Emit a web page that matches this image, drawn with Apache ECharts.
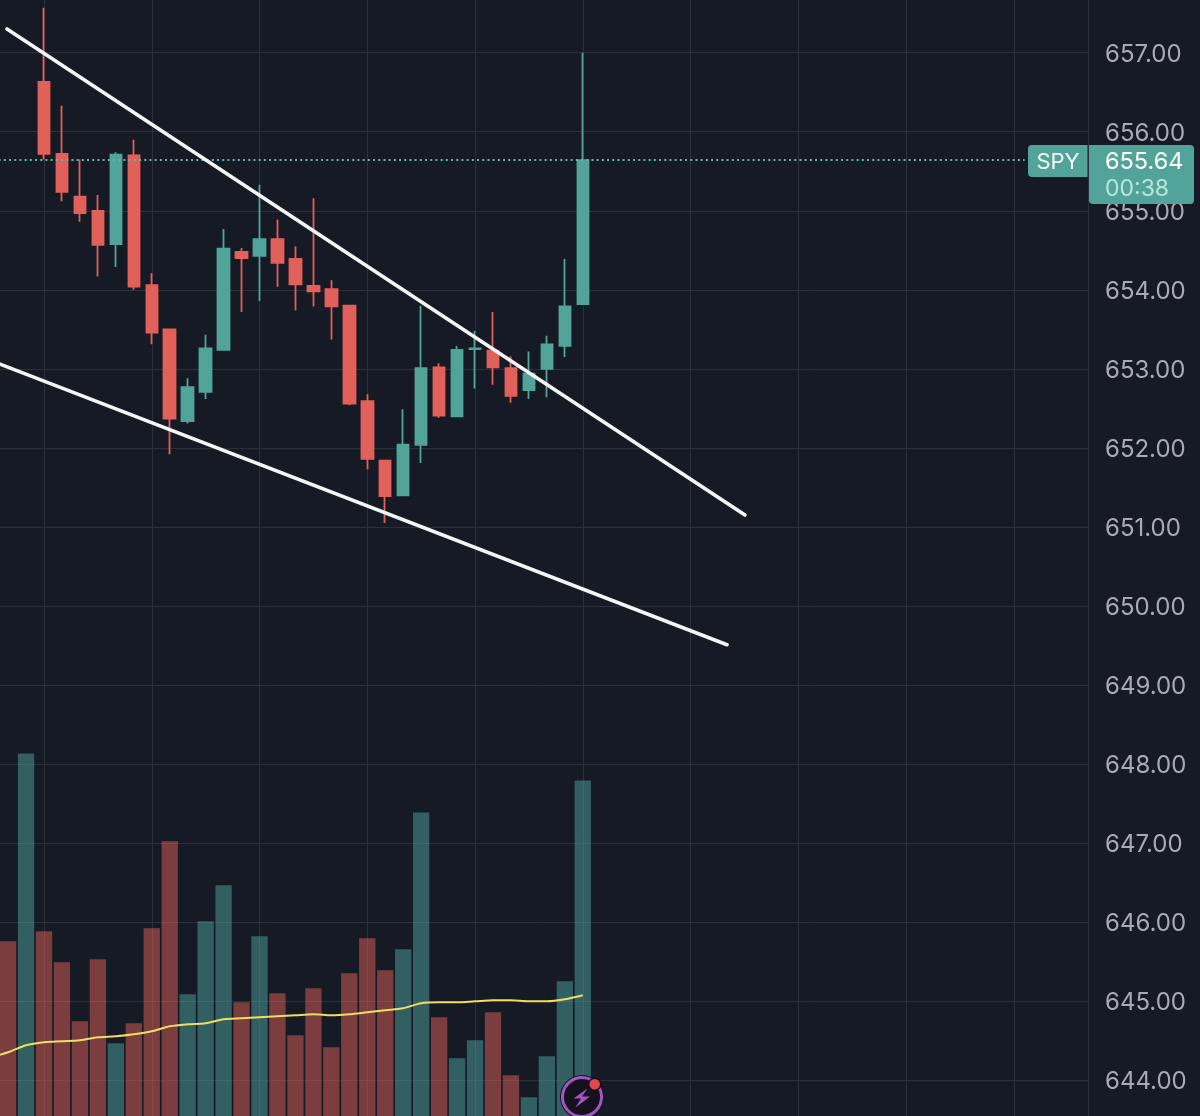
<!DOCTYPE html>
<html>
<head>
<meta charset="utf-8">
<title>SPY intraday</title>
<style>html,body{margin:0;padding:0;background:#161a25}#chart{width:1200px;height:1116px}</style>
<script src="https://cdn.jsdelivr.net/npm/echarts@6/dist/echarts.min.js"></script>
</head>
<body>
<div id="chart"></div>
<script>
// Session bars, oldest first. Bar 0 sits on a time gridline.
const symbol = 'SPY';
const lastPrice = 655.64;
const countdown = '00:38';

const opens  = [656.63,655.72,655.18,655.00,654.58,655.70,654.06,653.50,652.34,652.71,653.24,654.48,654.43,654.64,654.39,654.05,654.01,653.80,652.59,651.84,651.40,652.04,653.02,652.40,653.25,653.23,653.01,652.73,653.00,653.29,653.82];
const closes = [655.72,655.24,654.97,654.57,655.71,654.04,653.46,652.37,652.77,653.26,654.52,654.40,654.64,654.34,654.07,653.98,653.79,652.56,651.86,651.39,652.04,653.01,652.41,653.24,653.26,653.02,652.66,652.94,653.31,653.79,655.64];
const lows   = [655.65,655.12,654.86,654.17,654.29,654.00,653.31,651.92,652.31,652.62,653.24,653.72,653.86,654.04,653.74,653.79,653.37,652.54,651.73,651.05,651.40,651.81,652.38,652.40,652.75,652.80,652.57,652.62,652.64,653.15,653.82];
const highs  = [657.57,656.33,655.65,655.20,655.74,655.90,654.21,653.50,652.88,653.43,654.77,654.53,655.33,654.89,654.55,655.16,654.12,653.80,652.68,651.84,652.49,653.80,653.07,653.29,653.48,653.72,653.16,653.22,653.42,654.39,657.00];

// Volume starts two bars earlier, the price of those two bars is above the visible range.
const volumeStart = -2;
const volumes = [218,406,228,197,138,200,116,136,231,318,165,238,274,157,223,166,124,171,112,186,221,189,210,347,142,101,119,147,84,62,103,178,379];
const volumeUp = [0,1,0,0,0,0,1,0,0,0,1,1,1,0,1,0,0,0,0,0,0,0,1,1,0,1,1,0,0,1,1,1,1];
// Volume moving average, one point ahead of the first volume bar.
const volumeAverageStart = -3;
const volumeAverage = [102,107,114,117,118,119,122,123,125,128,133,135,136,140,141,142,143,144,145,144,145,147,149,151,156,157,157,158,159,159,158,158,160,164];

// Trend channel drawn by hand: [bar, price] end points.
const upperTrend = [[-2.06,657.30],[39.03,651.15]];
const lowerTrend = [[-2.45,653.06],[38.03,649.51]];

const priceMin = 643, priceMax = 658;
const barMin = -6, barMax = 58.13, barInterval = 6;
const volumeAxisMax = 1186;

const bg = '#161a25', grid = '#2c303b', up = '#52a49a', down = '#e2605a', labelColor = '#a8abb3';
const volumeUpColor = '#4ea39f';
const font = 'Inter';

const candles = opens.map((o, i) => [i, o, closes[i], lows[i], highs[i]]);
const bars = volumes.map((v, i) => ({
  value: [volumeStart + i, v],
  itemStyle: { color: volumeUp[i] ? volumeUpColor : down, opacity: 0.5 }
}));
const average = volumeAverage.map((v, i) => [volumeAverageStart + i, v]);

const trendLine = (data) => ({
  type: 'line', data, xAxisIndex: 0, yAxisIndex: 0, symbol: 'none', z: 6,
  lineStyle: { color: '#f4f5f6', width: 3.6, cap: 'round' }
});

const chart = echarts.init(document.getElementById('chart'), null, { renderer: 'canvas' });
chart.setOption({
  animation: false,
  backgroundColor: bg,
  grid: { left: -63.76, top: -26.34, width: 1151.76, height: 1185.6, containLabel: false, outerBoundsMode: 'none' },
  xAxis: {
    type: 'value', min: barMin, max: barMax, interval: barInterval,
    axisLine: { show: false }, axisTick: { show: false }, axisLabel: { show: false },
    splitLine: { show: true, lineStyle: { color: grid, width: 1 } }
  },
  yAxis: [{
    type: 'value', position: 'right', min: priceMin, max: priceMax, interval: 1,
    axisLine: { show: false }, axisTick: { show: false },
    axisLabel: {
      margin: 17,
      formatter: (v) => '{price|' + v.toFixed(2) + '}',
      rich: {
        price: { color: labelColor, fontFamily: font, fontSize: 24, padding: [4, 0, 0, 0] }
      }
    },
    splitLine: { show: true, lineStyle: { color: grid, width: 1 } }
  }, {
    type: 'value', min: 0, max: volumeAxisMax, show: false, splitLine: { show: false }
  }],
  series: [
    { type: 'bar', data: bars, xAxisIndex: 0, yAxisIndex: 1, barWidth: 16.3, z: 2, silent: true },
    {
      type: 'line', data: average, xAxisIndex: 0, yAxisIndex: 1, symbol: 'none', smooth: 0.3, z: 3,
      lineStyle: { color: '#f0dd62', width: 2 }
    },
    {
      type: 'candlestick', data: candles, xAxisIndex: 0, yAxisIndex: 0, barWidth: 12, z: 4,
      itemStyle: {
        color: up, color0: down, borderColor: up, borderColor0: down, borderWidth: 1.8
      },
      markLine: {
        silent: true, symbol: 'none', animation: false,
        label: { show: false },
        lineStyle: { color: '#5fb8ac', type: [2, 3.2], width: 1.8 },
        data: [[{ coord: [barMin, lastPrice] }, { coord: [54.6, lastPrice] }]]
      }
    },
    trendLine(upperTrend),
    trendLine(lowerTrend)
  ],
  graphic: [
    // Last price tags on the price scale
    { type: 'rect', z: 100, shape: { x: 1028, y: 145, width: 59.5, height: 32, r: [4, 0, 0, 4] }, style: { fill: up } },
    { type: 'rect', z: 100, shape: { x: 1089, y: 145, width: 105, height: 59, r: [0, 4, 4, 4] }, style: { fill: up } },
    { type: 'text', z: 101, style: { text: symbol, x: 1058, y: 162, align: 'center', verticalAlign: 'middle', fill: '#f3f7f6', font: '22px ' + font } },
    { type: 'text', z: 101, style: { text: lastPrice.toFixed(2), x: 1105, y: 162, align: 'left', verticalAlign: 'middle', fill: '#ffffff', font: '23.5px ' + font } },
    { type: 'text', z: 101, style: { text: countdown, x: 1105, y: 189, align: 'left', verticalAlign: 'middle', fill: '#b6e6dd', font: '23px ' + font } },
    // Alert badge
    { type: 'circle', z: 100, shape: { cx: 582, cy: 1097, r: 22 }, style: { fill: '#15121d' } },
    { type: 'arc', z: 101, shape: { cx: 582, cy: 1097, r: 19.5, startAngle: -0.65, endAngle: -1.05, clockwise: true }, style: { fill: 'none', stroke: '#a354c6', lineWidth: 3 } },
    { type: 'polygon', z: 101, shape: { points: [[587.5, 1088.5], [573.5, 1098.5], [581, 1098.5], [575.5, 1107.5], [590, 1096.5], [582, 1096.5]] }, style: { fill: '#a354c6' } },
    { type: 'circle', z: 102, shape: { cx: 594.7, cy: 1084.3, r: 6 }, style: { fill: '#e5474c', stroke: '#15121d', lineWidth: 1.5 } }
  ]
});
</script>
</body>
</html>
